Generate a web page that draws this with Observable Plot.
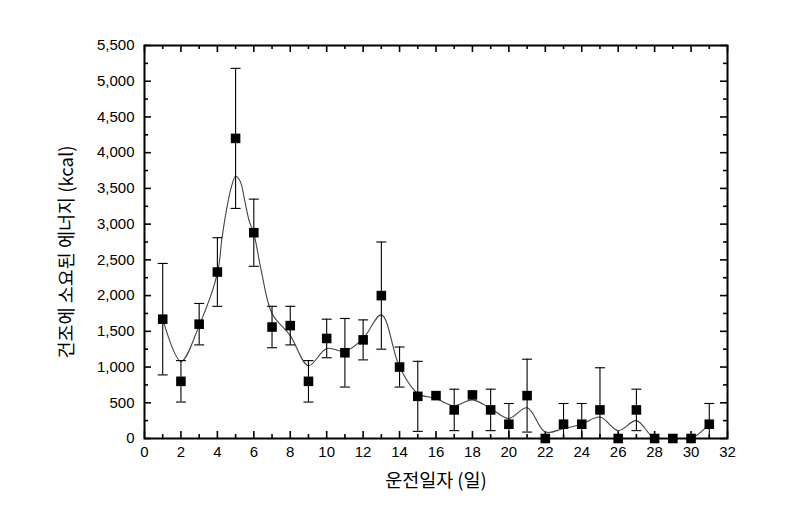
<!DOCTYPE html>
<html><head><meta charset="utf-8">
<script src="https://cdn.jsdelivr.net/npm/d3@7"></script>
<script src="https://cdn.jsdelivr.net/npm/@observablehq/plot@0.6"></script>
<style>body{margin:0;background:#fff;}</style>
</head><body><div id="chart"></div>
<script>
// Measured points (day, energy kcal, error +/-)
const days   = [1,2,3,4,5,6,7,8,9,10,11,12,13,14,15,16,17,18,19,20,21,22,23,24,25,26,27,28,29,30,31];
const energy = [1670,800,1600,2330,4200,2880,1560,1580,800,1400,1200,1380,2000,1000,590,600,400,610,400,200,600,0,200,200,400,0,400,0,0,0,200];
const errs   = [780,290,290,480,980,470,290,270,290,270,480,280,750,280,490,0,290,0,290,290,510,0,290,290,590,0,290,0,0,0,290];

// Smoothed curve
const curveDays = [1,2,3,4,4.25,4.5,4.75,5,5.25,5.5,5.75,6,6.4,7,8,9,10,11,12,13,14,15,16,17,18,19,20,21,22,23,24,25,26,27,28,29,30,31];
const curveVals = [1670,1080,1580,2310,2800,3200,3500,3670,3600,3330,3040,2870,2360,1750,1440,1020,1260,1220,1400,1730,1000,630,560,460,540,420,280,430,90,140,200,300,110,250,0,0,0,200];

const xMajor = [0,2,4,6,8,10,12,14,16,18,20,22,24,26,28,30,32];
const xMinor = [1,3,5,7,9,11,13,15,17,19,21,23,25,27,29,31];
const yMajor = [0,500,1000,1500,2000,2500,3000,3500,4000,4500,5000,5500];
const yMinor = [250,750,1250,1750,2250,2750,3250,3750,4250,4750,5250];

const xLabel = "운전일자 (일)";
const yLabel = "건조에 소요된 에너지 (kcal)";

const points = days.map((d,i)=>({day:d, v:energy[i], err:errs[i], lo:energy[i]-errs[i], hi:energy[i]+errs[i]}));
const errPts = points.filter(d=>d.err>0);
const curve = curveDays.map((d,i)=>({day:d, v:curveVals[i]}));

const W=798, H=527, mL=144, mR=71, mT=45, mB=89;
const pw = W-mL-mR, ph = H-mT-mB;

const cap = {draw(ctx, size){ const w=Math.sqrt(size/Math.PI); ctx.moveTo(-w,0); ctx.lineTo(w,0); }};
const korean = "'Noto Sans CJK KR', sans-serif";

const chart = Plot.plot({
  width: W, height: H,
  marginLeft: mL, marginRight: mR, marginTop: mT, marginBottom: mB,
  style: {fontFamily: "'Liberation Sans', Arial, sans-serif", fontSize: "15px", color: "#000", background: "#fff"},
  x: {domain: [0,32]},
  y: {domain: [0,5500]},
  marks: [
    Plot.axisX({ticks: xMajor, tickSize: 0, tickPadding: 8, label: null, fontSize: 15}),
    Plot.axisY({ticks: yMajor, tickSize: 0, tickPadding: 10, tickFormat: d3.format(","), label: null, fontSize: 15}),
    // inward ticks on four sides
    Plot.tickX(xMajor, {x: d=>d, insetTop: ph-7, stroke: "#000", strokeWidth: 1.6}),
    Plot.tickX(xMinor, {x: d=>d, insetTop: ph-4, stroke: "#000", strokeWidth: 1.6}),
    Plot.tickX(xMajor, {x: d=>d, insetBottom: ph-7, stroke: "#000", strokeWidth: 1.6}),
    Plot.tickX(xMinor, {x: d=>d, insetBottom: ph-4, stroke: "#000", strokeWidth: 1.6}),
    Plot.tickY(yMajor, {y: d=>d, insetRight: pw-7, stroke: "#000", strokeWidth: 1.6}),
    Plot.tickY(yMinor, {y: d=>d, insetRight: pw-4, stroke: "#000", strokeWidth: 1.6}),
    Plot.tickY(yMajor, {y: d=>d, insetLeft: pw-7, stroke: "#000", strokeWidth: 1.6}),
    Plot.tickY(yMinor, {y: d=>d, insetLeft: pw-4, stroke: "#000", strokeWidth: 1.6}),
    // smooth curve
    Plot.line(curve, {x: "day", y: "v", curve: "catmull-rom", stroke: "#444", strokeWidth: 1.1, clip: true}),
    // error bars
    Plot.ruleX(errPts, {x: "day", y1: "lo", y2: "hi", stroke: "#000", strokeWidth: 1.1, clip: true}),
    Plot.dot(errPts, {x: "day", y: "hi", symbol: cap, r: 5, stroke: "#000", strokeWidth: 1.1, fill: "none", clip: true}),
    Plot.dot(errPts, {x: "day", y: "lo", symbol: cap, r: 5, stroke: "#000", strokeWidth: 1.1, fill: "none", clip: true}),
    // squares
    Plot.dot(points, {x: "day", y: "v", symbol: "square", r: 5.4, fill: "#000", stroke: null}),
    Plot.frame({stroke: "#000", strokeWidth: 2}),
    // axis titles
    Plot.text([xLabel], {text: d=>d, frameAnchor: "bottom", dy: 48, fontSize: 18.5, fontFamily: korean, textAnchor: "middle"}),
    Plot.text([yLabel], {text: d=>d, frameAnchor: "left", dx: -77, dy: 10, rotate: -90, textAnchor: "middle", fontSize: 18.5, fontFamily: korean})
  ]
});
document.getElementById("chart").appendChild(chart);
</script>
</body></html>
